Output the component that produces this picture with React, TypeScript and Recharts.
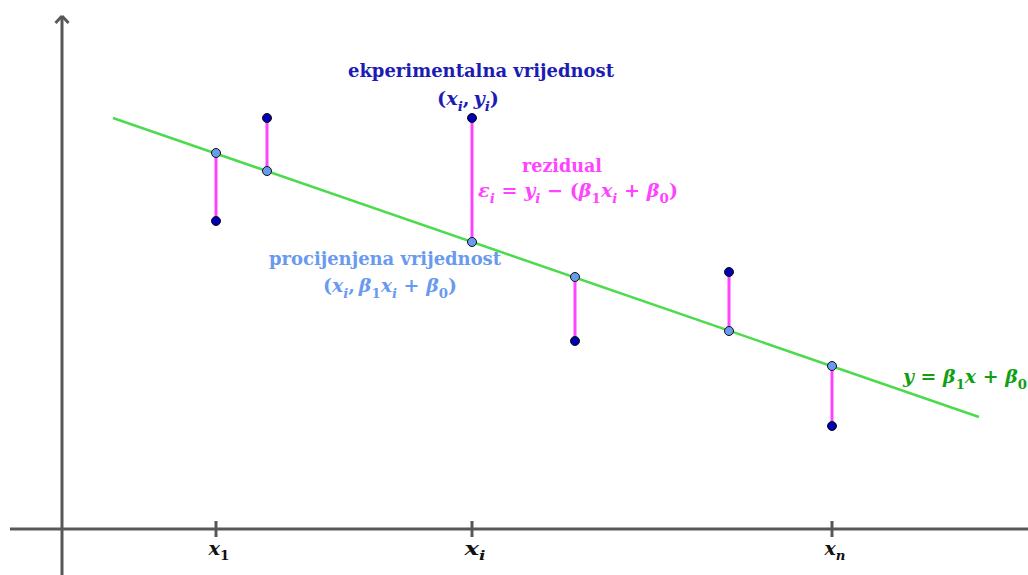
import React from 'react';
import {
  ComposedChart, XAxis, YAxis, Scatter, ReferenceLine,
} from 'recharts';

// positions of the sample x values (x1 ... xn), in chart units
const xValues = [15.4, 20.5, 41.0, 51.3, 66.7, 77.0];
// measured y values (dark blue points)
const observedY = [30.8, 41.1, 41.1, 18.8, 25.7, 10.3];
// y values on the regression line (light blue points)
const fittedY = [37.6, 35.8, 28.7, 25.2, 19.8, 16.3];
// end points of the drawn regression line
const lineX = [5.1, 91.7];
const lineY = [41.1, 11.2];
// labelled ticks on the x axis
const tickX = [15.4, 41.0, 77.0];
const tickSubs = ['1', 'i', 'n'];

const W = 1028;
const H = 575;
const X_DOMAIN: [number, number] = [-6.2, 96.6];
const Y_DOMAIN: [number, number] = [-4.6, 52.9];

const AXIS = '#585858';
const GREEN = '#4cdb4c';
const MAGENTA = '#ff44ff';
const DARK_BLUE = '#0000b0';
const LIGHT_BLUE = '#6a9af0';
const FONT = "'DejaVu Serif', 'Liberation Serif', serif";

const toPx = (x: number) => ((x - X_DOMAIN[0]) / (X_DOMAIN[1] - X_DOMAIN[0])) * W;

const observedData = xValues.map((x, i) => ({ x, y: observedY[i] }));
const fittedData = xValues.map((x, i) => ({ x, y: fittedY[i] }));

type Part = string | [string, string];

// renders a formula: plain strings upright, [letter, sub] pairs italic with a subscript
function MathText({ x, y, parts, size, color, width }: {
  x: number; y: number; parts: Part[]; size: number; color: string; width?: number;
}) {
  const spans: React.ReactNode[] = [];
  let shift = 0;
  const sub = Math.round(size * 0.3);
  parts.forEach((p, k) => {
    if (typeof p === 'string') {
      spans.push(<tspan key={k} dy={-shift} fontStyle="normal">{p}</tspan>);
      shift = 0;
    } else {
      spans.push(<tspan key={k + 'a'} dy={-shift} fontStyle="italic">{p[0]}</tspan>);
      if (p[1]) {
        const isLetter = /[a-z]/.test(p[1]);
        spans.push(
          <tspan key={k + 'b'} dy={sub} fontSize={size * 0.7} fontStyle={isLetter ? 'italic' : 'normal'}>{p[1]}</tspan>,
        );
        shift = sub;
      } else {
        shift = 0;
      }
    }
  });
  return (
    <text
      x={x} y={y} textAnchor="middle" fontFamily={FONT} fontWeight="bold" fontSize={size} fill={color}
      textLength={width} lengthAdjust={width ? 'spacingAndGlyphs' : undefined}
    >
      {spans}
    </text>
  );
}

function Label({ x, y, text, color, width }: { x: number; y: number; text: string; color: string; width: number }) {
  return (
    <text
      x={x} y={y} textAnchor="middle" fontFamily={FONT} fontWeight="bold" fontSize={18} fill={color}
      textLength={width} lengthAdjust="spacingAndGlyphs"
    >
      {text}
    </text>
  );
}

const Dot = (fill: string) => (props: any) => (
  <circle cx={props.cx} cy={props.cy} r={4.5} fill={fill} stroke="#111" strokeWidth={1} />
);

export default function App() {
  return (
    <div style={{ position: 'absolute', left: 0, top: 0, width: W, height: H, background: '#fff' }}>
      <ComposedChart width={W} height={H} margin={{ top: 0, right: 0, bottom: 0, left: 0 }}>
        <XAxis type="number" dataKey="x" domain={X_DOMAIN} hide allowDataOverflow />
        <YAxis type="number" dataKey="y" domain={Y_DOMAIN} hide allowDataOverflow />

        {/* axes */}
        <ReferenceLine segment={[{ x: -5.2, y: 0 }, { x: 96.6, y: 0 }]} stroke={AXIS} strokeWidth={3} ifOverflow="visible" />
        <ReferenceLine segment={[{ x: 0, y: -4.6 }, { x: 0, y: 51.3 }]} stroke={AXIS} strokeWidth={3} ifOverflow="visible" />
        <ReferenceLine segment={[{ x: -0.65, y: 50.6 }, { x: 0, y: 51.3 }]} stroke={AXIS} strokeWidth={3} ifOverflow="visible" />
        <ReferenceLine segment={[{ x: 0.65, y: 50.6 }, { x: 0, y: 51.3 }]} stroke={AXIS} strokeWidth={3} ifOverflow="visible" />
        {tickX.map((t) => (
          <ReferenceLine key={t} segment={[{ x: t, y: -0.8 }, { x: t, y: 0.8 }]} stroke={AXIS} strokeWidth={3} />
        ))}

        {/* regression line */}
        <ReferenceLine segment={[{ x: lineX[0], y: lineY[0] }, { x: lineX[1], y: lineY[1] }]} stroke={GREEN} strokeWidth={2.5} />

        {/* residuals */}
        {xValues.map((x, i) => (
          <ReferenceLine key={'r' + i} segment={[{ x, y: fittedY[i] }, { x, y: observedY[i] }]} stroke={MAGENTA} strokeWidth={3} />
        ))}

        <Scatter data={fittedData} dataKey="y" shape={Dot(LIGHT_BLUE)} isAnimationActive={false} />
        <Scatter data={observedData} dataKey="y" shape={Dot(DARK_BLUE)} isAnimationActive={false} />
      </ComposedChart>

      <svg width={W} height={H} style={{ position: 'absolute', left: 0, top: 0, pointerEvents: 'none' }}>
        <Label x={481} y={77} text="ekperimentalna vrijednost" color="#1c1cb4" width={266} />
        <MathText x={468} y={105} size={19} width={62} color="#1c1cb4" parts={['(', ['x', 'i'], ',\u2009', ['y', 'i'], ')']} />

        <Label x={562} y={172} text="rezidual" color={MAGENTA} width={80} />
        <MathText
          x={578}
          y={197}
          size={19}
          width={200}
          color={MAGENTA}
          parts={[['ε', 'i'], ' = ', ['y', 'i'], ' − (', ['β', '1'], ['x', 'i'], ' + ', ['β', '0'], ')']}
        />

        <Label x={385} y={265} text="procijenjena vrijednost" color={LIGHT_BLUE} width={232} />
        <MathText
          x={390}
          y={292}
          size={19}
          width={134}
          color={LIGHT_BLUE}
          parts={['(', ['x', 'i'], ',\u2009', ['β', '1'], ['x', 'i'], ' + ', ['β', '0'], ')']}
        />

        <MathText
          x={965}
          y={383}
          size={19}
          width={124}
          color="#12a012"
          parts={[['y', ''], ' = ', ['β', '1'], ['x', ''], ' + ', ['β', '0']]}
        />

        {tickX.map((t, i) => (
          <MathText key={t} x={toPx(t) + 3} y={555} size={18} width={21} color="#111" parts={[['x', tickSubs[i]]]} />
        ))}
      </svg>
    </div>
  );
}
